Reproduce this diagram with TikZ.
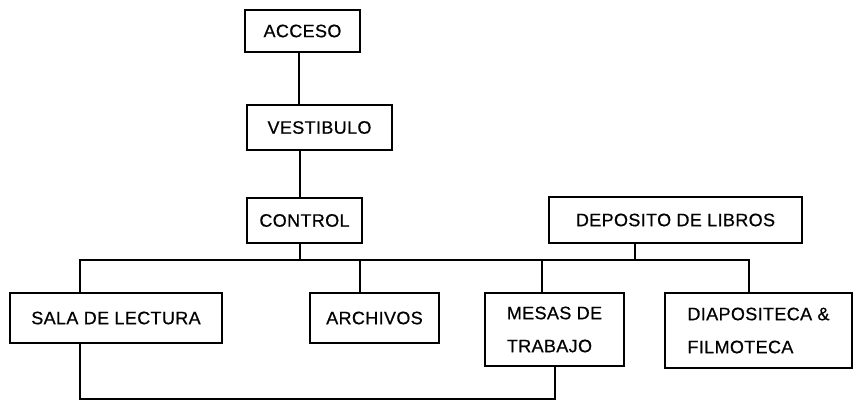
\documentclass[tikz,border=0pt]{standalone}
\usepackage{fontspec}
\setmainfont{Liberation Sans}[LetterSpace=2,FakeBold=0.6]
\begin{document}
\begin{tikzpicture}[x=1pt,y=-1pt,
  box/.style={draw,line width=2.6pt,inner sep=0pt,align=left,font=\fontsize{18}{33}\selectfont},
  conn/.style={line width=2.6pt}]
\useasboundingbox (0,0) rectangle (854,401);
\node[box,minimum width=115,minimum height=42] (acceso) at (302.5,31) {ACCESO};
\node[box,minimum width=145,minimum height=45] (vest) at (319.5,127.5) {VESTIBULO};
\node[box,minimum width=115,minimum height=45] (control) at (304.5,220.5) {CONTROL};
\node[box,minimum width=253,minimum height=46] (depo) at (675.5,220) {DEPOSITO DE LIBROS};
\node[box,minimum width=212,minimum height=50] (sala) at (116,318) {SALA DE LECTURA};
\node[box,minimum width=129,minimum height=50] (arch) at (374.5,318) {ARCHIVOS};
\node[box,minimum width=139,minimum height=73] (mesas) at (554.5,329.5) {MESAS DE\\TRABAJO};
\node[box,minimum width=187,minimum height=75] (diapo) at (758.5,330.5) {DIAPOSITECA \&\\FILMOTECA};
% junctions
\coordinate (busL) at (80,260);
\coordinate (busR) at (749,260);
\coordinate (cj) at (300,260);
\coordinate (dj) at (635,260);
\coordinate (aj) at (360,260);
\coordinate (mj) at (542,260);
\coordinate (botL) at (80,399);
\coordinate (botR) at (555,399);
\draw[conn] (acceso.south -| 299,0) -- (vest.north -| 299,0);
\draw[conn] (vest.south -| 300,0) -- (control.north -| 300,0);
\draw[conn] (control.south -| cj) -- (cj);
\draw[conn] (depo.south -| dj) -- (dj);
\draw[conn] (sala.north -| busL) -- (busL) -- (busR) -- (diapo.north -| busR);
\draw[conn] (aj) -- (arch.north -| aj);
\draw[conn] (mj) -- (mesas.north -| mj);
\draw[conn] (sala.south -| botL) -- (botL) -- (botR) -- (mesas.south -| botR);
\end{tikzpicture}
\end{document}
